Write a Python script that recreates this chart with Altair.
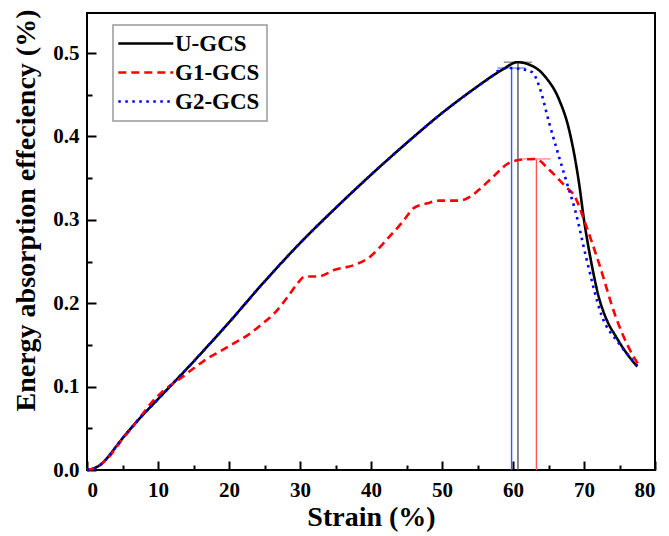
import altair as alt
import pandas as pd

# ---------------- data ----------------
series_names = ["U-GCS", "G1-GCS", "G2-GCS"]

u_x = [0, 1, 2, 3, 4, 5, 7, 10, 15, 20, 25, 30, 35, 40, 45, 50, 55, 57, 58.5, 60.6, 62,
       64.6, 66.5, 67.9, 69.3, 70, 71, 72.1, 73.2, 74.5, 76, 77.5]
u_y = [0, 0.002, 0.007, 0.016, 0.027, 0.038, 0.058, 0.085, 0.13, 0.177, 0.226, 0.272, 0.314,
       0.354, 0.392, 0.428, 0.46, 0.472, 0.48, 0.489, 0.487, 0.471, 0.444, 0.408, 0.344, 0.30,
       0.25, 0.207, 0.18, 0.16, 0.14, 0.124]

g1_x = [0, 1, 2, 3, 5, 7.2, 9, 10.9, 12.5, 13.8, 15.5, 17, 18.7, 20.3, 22.7, 24.5, 26.4, 28.3,
        29.5, 30.7, 32.5, 34.9, 37.7, 39.6, 42.4, 44.5, 46, 48, 49.6, 52.4, 54, 55.2, 57, 59.4,
        61, 63.2, 65.1, 67.5, 68.7, 70, 72.1, 74.5, 76, 77.7]
g1_y = [0, 0.002, 0.007, 0.015, 0.037, 0.06, 0.08, 0.096, 0.106, 0.114, 0.125, 0.134, 0.142,
        0.15, 0.162, 0.174, 0.188, 0.208, 0.222, 0.232, 0.232, 0.24, 0.246, 0.254, 0.278, 0.298,
        0.314, 0.32, 0.323, 0.323, 0.328, 0.336, 0.35, 0.368, 0.372, 0.373, 0.36, 0.339, 0.328,
        0.30, 0.248, 0.183, 0.152, 0.126]

g2_x = [0, 1, 2, 3, 4, 5, 7, 10, 15, 20, 25, 30, 35, 40, 45, 50, 55, 57, 58, 59.6, 61, 62.7,
        63.7, 65.1, 66.5, 67.6, 68.8, 70.3, 72.5, 74.9, 76.5, 77.5]
g2_y = [0, 0.002, 0.007, 0.016, 0.027, 0.038, 0.058, 0.085, 0.13, 0.177, 0.226, 0.272, 0.314,
        0.354, 0.392, 0.428, 0.46, 0.472, 0.479, 0.482, 0.481, 0.477, 0.46, 0.416, 0.375, 0.344,
        0.31, 0.255, 0.185, 0.152, 0.135, 0.125]

peak_x = [60.7, 63.3, 59.8]
peak_y = [0.489, 0.373, 0.482]

x_major = [0, 10, 20, 30, 40, 50, 60, 70, 80]
x_minor = [5, 15, 25, 35, 45, 55, 65, 75]
y_major = [0.0, 0.1, 0.2, 0.3, 0.4, 0.5]
y_minor = [0.05, 0.15, 0.25, 0.35, 0.45]

# ---------------- layout ----------------
W, H = 568, 457
XMAX, YMAX = 80, 0.548
FONT = "Liberation Serif"
MAJ, MIN = 9, 5          # inward tick lengths (px)
TICK = "black"
line_colors = ["#000000", "#ff0000", "#0000ff"]
line_dashes = [[1, 0], [8, 5], [2.5, 4.5]]
peak_colors = ["#555555", "#ff5555", "#2a5cff"]
cap_colors = ["#888888", "#ff8c8c", "#6c8cff"]

rows = []
for name, xs, ys in [("U-GCS", u_x, u_y), ("G1-GCS", g1_x, g1_y), ("G2-GCS", g2_x, g2_y)]:
    for i, (a, b) in enumerate(zip(xs, ys)):
        rows.append({"series": name, "strain": a, "eae": b, "order": i})
df = pd.DataFrame(rows)

peaks = pd.DataFrame({"series": series_names, "px": peak_x, "py": peak_y})
peaks["x1"] = peaks["px"] - 2.0
peaks["x2"] = peaks["px"] + 2.0
peaks["zero"] = 0.0

xs_scale = alt.Scale(domain=[0, XMAX], nice=False, zero=False)
ys_scale = alt.Scale(domain=[0, YMAX], nice=False, zero=False)

lab = dict(labelFont=FONT, labelFontSize=21, labelFontWeight="bold", labelColor="black")
tit = dict(titleFont=FONT, titleFontSize=28, titleFontWeight="bold", titleColor="black")

x_axis = alt.Axis(values=x_major, title="Strain (%)", ticks=False, domain=False, grid=False,
                  labelPadding=9, titlePadding=3, format="d", **lab, **tit)
y_axis = alt.Axis(values=y_major, title="Energy absorption effeciency (%)", ticks=False,
                  domain=False, grid=False, labelPadding=8, titlePadding=12, titleY=197,
                  format=".1f", **lab, **tit)
x_axis_major = alt.Axis(values=x_major, title=None, orient="bottom", offset=-MAJ, ticks=True,
                        tickSize=MAJ, tickWidth=2, tickColor=TICK, labels=False,
                        domain=False, grid=False)
y_axis_major = alt.Axis(values=y_major, title=None, orient="left", offset=-MAJ, ticks=True,
                        tickSize=MAJ, tickWidth=2, tickColor=TICK, labels=False,
                        domain=False, grid=False)
x_axis_minor = alt.Axis(values=x_minor, title=None, orient="bottom", offset=-MIN, ticks=True,
                        tickSize=MIN, tickWidth=2, tickColor=TICK, labels=False,
                        domain=False, grid=False)
y_axis_minor = alt.Axis(values=y_minor, title=None, orient="left", offset=-MIN, ticks=True,
                        tickSize=MIN, tickWidth=2, tickColor=TICK, labels=False,
                        domain=False, grid=False)

layers = []
for k, name in enumerate(series_names):
    first = k == 0
    layers.append(
        alt.Chart(peaks).transform_filter(alt.datum.series == name)
        .mark_rule(strokeWidth=1.4, color=peak_colors[k]).encode(
            x=alt.X("px:Q", scale=xs_scale, axis=x_axis if first else None),
            y=alt.Y("zero:Q", scale=ys_scale, axis=y_axis if first else None),
            y2="py:Q",
        )
    )
    layers.append(
        alt.Chart(peaks).transform_filter(alt.datum.series == name)
        .mark_rule(strokeWidth=1.4, color=cap_colors[k]).encode(
            x=alt.X("x1:Q", scale=xs_scale, axis=x_axis_minor if first else None),
            x2="x2:Q",
            y=alt.Y("py:Q", scale=ys_scale, axis=y_axis_minor if first else None),
        )
    )

lines = alt.Chart(df).mark_line(strokeWidth=2.6, interpolate="monotone").encode(
    x=alt.X("strain:Q", scale=xs_scale, axis=x_axis_major),
    y=alt.Y("eae:Q", scale=ys_scale, axis=y_axis_major),
    order="order:Q",
    color=alt.Color("series:N", scale=alt.Scale(domain=series_names, range=line_colors),
                    legend=alt.Legend(
                        title=None, orient="none", legendX=26, legendY=12, padding=7,
                        fillColor="white", strokeColor="#999999",
                        symbolType="M-2.4,0H7.6", symbolSize=121, symbolStrokeWidth=2.6,
                        labelFont=FONT, labelFontSize=23, labelFontWeight="bold",
                        labelColor="black", labelOffset=32, rowPadding=5)),
    strokeDash=alt.StrokeDash("series:N", scale=alt.Scale(domain=series_names, range=line_dashes),
                              legend=None),
)
layers.append(lines)

chart = alt.layer(*layers).resolve_axis(
    x="independent", y="independent"
).properties(
    width=W, height=H,
    autosize=alt.AutoSizeParams(type="none"),
    padding={"left": 87, "top": 13, "right": 14, "bottom": 66},
).configure_view(stroke="black", strokeWidth=2).configure_legend(strokeWidth=1.5)

chart.save("out.html", embed_options={"renderer": "svg", "actions": False})
